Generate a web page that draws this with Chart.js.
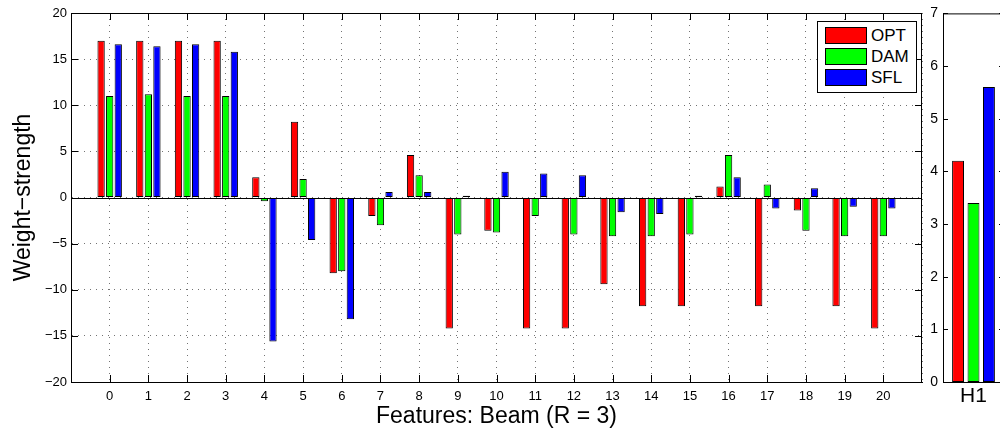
<!DOCTYPE html>
<html lang="en">
<head>
  <meta charset="UTF-8">
  <title>Weight-strength per feature</title>
  <script src="https://cdn.jsdelivr.net/npm/chart.js"></script>
  <style>
    html, body { margin: 0; padding: 0; background: #fff; overflow: hidden; width: 1000px; height: 431px; }
    .box { position: absolute; top: 0; }
    #legend { position: absolute; left: 817px; top: 21px; width: 98px; padding: 3px 0 4px 0;
      background: #fff; border: 1px solid #000; font: 17px "Liberation Sans", Arial, sans-serif; }
    .item { display: flex; align-items: center; height: 21px; margin-left: 7px; }
    .swatch { width: 40px; height: 15px; border: 1px solid #000; margin-right: 4px; }
  </style>
</head>
<body>
  <div class="box" style="left:0"><canvas id="mainChart" width="929" height="431"></canvas></div>
  <div class="box" style="left:915px"><canvas id="h1Chart" width="100" height="431"></canvas></div>
  <div id="legend"></div>

  <script>
    // features 0..20, padded with empty slots so the axis runs from -1 to 21
    const features = ['0','1','2','3','4','5','6','7','8','9','10','11','12','13','14','15','16','17','18','19','20'];
    const seriesNames = ['OPT', 'DAM', 'SFL'];
    const seriesColors = ['#ff0000', '#00ff00', '#0000ff'];

    const optValues = [17, 17, 17, 17, 2.2, 8.2, -8.2, -2.0, 4.6, -14.2, -3.6, -14.2, -14.2, -9.4, -11.8, -11.8, 1.2, -11.8, -1.4, -11.8, -14.2];
    const damValues = [11, 11.2, 11, 11, -0.4, 2.0, -8.0, -3.0, 2.4, -4.0, -3.8, -2.0, -4.0, -4.2, -4.2, -4.0, 4.6, 1.4, -3.6, -4.2, -4.2];
    const sflValues = [16.6, 16.4, 16.6, 15.8, -15.6, -4.6, -13.2, 0.6, 0.6, 0.2, 2.8, 2.6, 2.4, -1.6, -1.8, 0.2, 2.2, -1.2, 1.0, -1.0, -1.2];

    const h1Labels = ['H1'];
    const h1Opt = [4.2];
    const h1Dam = [3.4];
    const h1Sfl = [5.6];

    const FONT = '"Liberation Sans", Arial, sans-serif';
    const minus = v => v < 0 ? '\u2212' + (-v) : '' + v;
    const pad = arr => [null, ...arr, null];

    // box lines, zero line and inward tick marks (matlab style)
    const frame = {
      id: 'frame',
      afterDraw(chart, args, opts) {
        const { ctx, chartArea: a, scales } = chart;
        ctx.save();
        ctx.strokeStyle = '#000';
        ctx.lineWidth = 1;
        ctx.beginPath();
        ctx.moveTo(a.left, a.top + 0.5); ctx.lineTo(a.right, a.top + 0.5);
        ctx.moveTo(a.right - 0.5, a.top); ctx.lineTo(a.right - 0.5, a.bottom);
        if (opts.zero) {
          const y0 = Math.round(scales.y.getPixelForValue(0)) + 0.5;
          ctx.moveTo(a.left, y0); ctx.lineTo(a.right, y0);
        }
        const len = opts.len || 7;
        if (opts.xTicks) {
          scales.x.ticks.forEach((t, i) => {
            if (scales.x.getLabelForValue(t.value) === '') return;
            const x = Math.round(scales.x.getPixelForTick(i)) + 0.5;
            ctx.moveTo(x, a.bottom); ctx.lineTo(x, a.bottom - len);
            ctx.moveTo(x, a.top); ctx.lineTo(x, a.top + len);
          });
        }
        scales.y.ticks.forEach((t, i) => {
          const y = Math.round(scales.y.getPixelForTick(i)) + 0.5;
          ctx.moveTo(a.left, y); ctx.lineTo(a.left + len, y);
          ctx.moveTo(a.right, y); ctx.lineTo(a.right - len, y);
        });
        ctx.stroke();
        ctx.restore();
      }
    };

    const barSet = (label, data, color) => ({
      label, data, backgroundColor: color, borderColor: '#000', borderWidth: 1, borderSkipped: false
    });

    new Chart(document.getElementById('mainChart'), {
      type: 'bar',
      data: {
        labels: ['', ...features, ''],
        datasets: [
          barSet(seriesNames[0], pad(optValues), seriesColors[0]),
          barSet(seriesNames[1], pad(damValues), seriesColors[1]),
          barSet(seriesNames[2], pad(sflValues), seriesColors[2])
        ]
      },
      options: {
        responsive: false,
        animation: false,
        categoryPercentage: 0.665,
        barPercentage: 0.85,
        layout: { padding: { top: 13, right: 5, left: 0, bottom: 0 } },
        plugins: { legend: { display: false }, tooltip: { enabled: false }, frame: { zero: true, xTicks: true } },
        scales: {
          x: {
            offset: false,
            grid: { offset: false, drawTicks: false, color: 'rgba(0,0,0,0.55)' },
            border: { color: '#000', width: 1, dash: [1, 5] },
            ticks: { color: '#000', font: { family: FONT, size: 13 }, padding: 7, autoSkip: false, maxRotation: 0 },
            title: { display: true, text: 'Features: Beam (R = 3)', color: '#000',
                     font: { family: FONT, size: 23 }, padding: { top: 0, bottom: 1 } },
            afterFit: s => { s.height = 49; }
          },
          y: {
            min: -20, max: 20,
            grid: { drawTicks: false, color: 'rgba(0,0,0,0.55)' },
            border: { color: '#000', width: 1, dash: [1, 5] },
            ticks: { stepSize: 5, color: '#000', font: { family: FONT, size: 13 }, padding: 4, callback: minus },
            title: { display: true, text: 'Weight\u2212strength', color: '#000',
                     font: { family: FONT, size: 23 }, padding: { top: 10, bottom: 0 } },
            afterFit: s => { s.width = 71; }
          }
        }
      },
      plugins: [frame]
    });

    new Chart(document.getElementById('h1Chart'), {
      type: 'bar',
      data: {
        labels: h1Labels,
        datasets: [
          barSet(seriesNames[0], h1Opt, seriesColors[0]),
          barSet(seriesNames[1], h1Dam, seriesColors[1]),
          barSet(seriesNames[2], h1Sfl, seriesColors[2])
        ]
      },
      options: {
        responsive: false,
        animation: false,
        categoryPercentage: 0.76,
        barPercentage: 0.77,
        layout: { padding: { top: 13, right: 11, left: 0, bottom: 0 } },
        plugins: { legend: { display: false }, tooltip: { enabled: false }, frame: { len: 5 } },
        scales: {
          x: {
            grid: { display: false, drawTicks: false },
            border: { color: '#000', width: 1 },
            ticks: { color: '#000', font: { family: FONT, size: 21 }, padding: 2 },
            afterFit: s => { s.height = 49; }
          },
          y: {
            min: 0, max: 7,
            grid: { display: false, drawTicks: false },
            border: { color: '#000', width: 1 },
            ticks: { stepSize: 1, color: '#000', font: { family: FONT, size: 14 }, padding: 5 },
            afterFit: s => { s.width = 28; }
          }
        }
      },
      plugins: [frame]
    });

    document.getElementById('legend').innerHTML = seriesNames.map((name, i) =>
      `<div class="item"><span class="swatch" style="background:${seriesColors[i]}"></span>${name}</div>`
    ).join('');
  </script>
</body>
</html>
